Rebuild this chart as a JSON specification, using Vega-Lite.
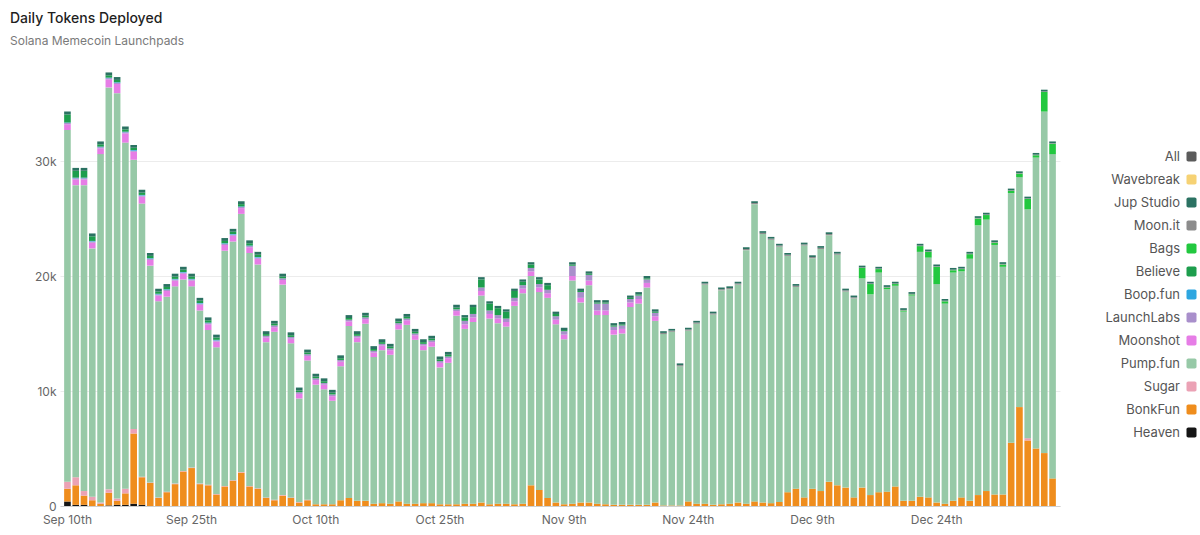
{
"$schema": "https://vega.github.io/schema/vega-lite/v6.json",
"width": 1000, "height": 437,
"autosize": {"type": "none"},
"padding": {"left": 60, "top": 69, "right": 140, "bottom": 29},
"background": "white",
"config": {"view": {"stroke": null}, "font": "Inter"},
"title": {"text": "Daily Tokens Deployed", "subtitle": "Solana Memecoin Launchpads", "anchor": "start", "frame": "group", "dx": -50, "offset": 22, "fontSize": 14, "fontWeight": 500, "color": "#1f1f1f", "subtitleFontSize": 12, "subtitleColor": "#7a7a7a", "subtitlePadding": 10, "font": "Inter", "subtitleFont": "Inter"},
"data": {"values": [
{"d":"2025-09-10","H":400,"K":1100,"S":600,"P":30600,"M":500,"L":100,"B":50,"V":700,"J":250},
{"d":"2025-09-11","H":100,"K":1700,"S":700,"P":25400,"M":500,"L":100,"B":50,"V":600,"J":250},
{"d":"2025-09-12","H":100,"K":800,"S":400,"P":26600,"M":500,"L":100,"B":50,"V":600,"J":250},
{"d":"2025-09-13","K":500,"S":300,"P":21600,"M":500,"L":100,"B":50,"V":400,"J":250},
{"d":"2025-09-14","K":200,"S":100,"P":30300,"M":500,"L":100,"B":50,"V":200,"J":250},
{"d":"2025-09-15","H":50,"K":1100,"S":300,"P":34950,"M":700,"L":100,"B":50,"V":200,"J":250},
{"d":"2025-09-16","H":100,"K":350,"S":200,"P":35250,"M":800,"L":100,"B":50,"V":200,"J":250},
{"d":"2025-09-17","H":100,"K":1000,"S":400,"P":30100,"M":800,"L":100,"B":50,"V":200,"J":250},
{"d":"2025-09-18","H":200,"K":6100,"S":400,"P":23400,"M":700,"L":100,"B":50,"V":200,"J":250},
{"d":"2025-09-19","H":100,"K":2400,"S":50,"P":23750,"M":600,"L":100,"B":50,"V":200,"J":250},
{"d":"2025-09-20","K":2000,"S":50,"P":18850,"M":500,"L":100,"B":50,"V":200,"J":250},
{"d":"2025-09-21","K":700,"S":50,"P":17050,"M":500,"L":100,"B":50,"V":200,"J":250},
{"d":"2025-09-22","K":1200,"S":50,"P":16950,"M":500,"L":100,"B":50,"V":200,"J":250},
{"d":"2025-09-23","K":1900,"S":50,"P":17150,"M":500,"L":100,"B":50,"V":200,"J":250},
{"d":"2025-09-24","K":3000,"S":50,"P":16650,"M":500,"L":100,"B":50,"V":200,"J":250},
{"d":"2025-09-25","K":3300,"S":50,"P":15750,"M":500,"L":100,"B":50,"V":200,"J":250},
{"d":"2025-09-26","K":1900,"S":50,"P":15050,"M":500,"L":100,"B":50,"V":200,"J":250},
{"d":"2025-09-27","K":1800,"S":50,"P":13450,"M":500,"L":100,"B":50,"V":200,"J":250},
{"d":"2025-09-28","K":1000,"S":50,"P":12750,"M":500,"L":100,"B":50,"V":200,"J":250},
{"d":"2025-09-29","K":1700,"S":50,"P":20450,"M":500,"L":100,"B":50,"V":200,"J":250},
{"d":"2025-09-30","K":2200,"S":50,"P":20750,"M":500,"L":100,"B":50,"V":200,"J":250},
{"d":"2025-10-01","K":2900,"S":50,"P":22450,"M":500,"L":100,"B":50,"V":200,"J":250},
{"d":"2025-10-02","K":1700,"S":50,"P":20250,"M":500,"L":100,"B":50,"V":200,"J":250},
{"d":"2025-10-03","K":1500,"S":50,"P":19450,"M":500,"L":100,"B":50,"V":200,"J":250},
{"d":"2025-10-04","K":700,"S":50,"P":13500,"M":400,"L":150,"V":150,"J":250},
{"d":"2025-10-05","K":500,"S":50,"P":14600,"M":400,"L":150,"V":150,"J":250},
{"d":"2025-10-06","K":900,"S":50,"P":18300,"M":400,"L":150,"V":150,"J":250},
{"d":"2025-10-07","K":700,"S":50,"P":13400,"M":400,"L":150,"V":150,"J":250},
{"d":"2025-10-08","K":300,"S":50,"P":9000,"M":400,"L":150,"V":150,"J":250},
{"d":"2025-10-09","K":500,"S":50,"P":12100,"M":400,"L":150,"V":150,"J":250},
{"d":"2025-10-10","K":150,"P":10400,"M":400,"L":150,"V":150,"J":250},
{"d":"2025-10-11","K":150,"P":10000,"M":400,"L":150,"V":150,"J":250},
{"d":"2025-10-12","K":150,"P":9000,"M":400,"L":150,"V":150,"J":250},
{"d":"2025-10-13","K":500,"P":11650,"M":400,"L":150,"V":150,"J":250},
{"d":"2025-10-14","K":700,"P":14950,"M":400,"L":150,"V":150,"J":250},
{"d":"2025-10-15","K":450,"P":13800,"M":400,"L":150,"V":150,"J":250},
{"d":"2025-10-16","K":450,"P":15400,"M":400,"L":150,"V":150,"J":250},
{"d":"2025-10-17","K":200,"P":12750,"M":400,"L":150,"V":150,"J":250},
{"d":"2025-10-18","K":250,"P":13300,"M":400,"L":150,"V":150,"J":250},
{"d":"2025-10-19","K":200,"P":12950,"M":400,"L":150,"V":150,"J":250},
{"d":"2025-10-20","K":400,"P":14950,"M":400,"L":150,"V":150,"J":250},
{"d":"2025-10-21","K":200,"P":15550,"M":400,"L":150,"V":150,"J":250},
{"d":"2025-10-22","K":200,"P":14250,"M":400,"L":150,"V":150,"J":250},
{"d":"2025-10-23","K":250,"P":13300,"M":400,"L":150,"V":150,"J":250},
{"d":"2025-10-24","K":250,"P":13600,"M":400,"L":150,"V":150,"J":250},
{"d":"2025-10-25","K":150,"P":11900,"M":400,"L":150,"V":150,"J":250},
{"d":"2025-10-26","K":150,"P":12300,"M":400,"L":150,"V":150,"J":250},
{"d":"2025-10-27","K":150,"P":16400,"M":400,"L":150,"V":150,"J":250},
{"d":"2025-10-28","K":200,"P":15200,"M":400,"L":300,"V":300,"J":200},
{"d":"2025-10-29","K":200,"P":15800,"M":400,"L":300,"V":600,"J":200},
{"d":"2025-10-30","K":300,"P":18000,"M":400,"L":300,"V":700,"J":200},
{"d":"2025-10-31","K":150,"P":16150,"M":400,"L":300,"V":600,"J":200},
{"d":"2025-11-01","K":200,"P":15700,"M":400,"L":300,"V":600,"J":200},
{"d":"2025-11-02","K":200,"P":15400,"M":400,"L":300,"V":600,"J":200},
{"d":"2025-11-03","K":150,"P":17250,"M":400,"L":300,"V":600,"J":200},
{"d":"2025-11-04","K":200,"P":18300,"M":400,"L":300,"V":300,"J":200},
{"d":"2025-11-05","K":1800,"P":18200,"M":400,"L":300,"V":300,"J":200},
{"d":"2025-11-06","K":1400,"P":17200,"M":400,"L":300,"V":400,"J":200},
{"d":"2025-11-07","K":700,"P":17400,"M":400,"L":300,"V":400,"J":200},
{"d":"2025-11-08","K":300,"P":15500,"M":400,"L":300,"V":200,"J":200},
{"d":"2025-11-09","K":150,"P":14350,"M":400,"L":300,"V":100,"J":200},
{"d":"2025-11-10","K":200,"P":19400,"M":400,"L":900,"V":100,"J":200},
{"d":"2025-11-11","K":300,"P":17400,"M":400,"L":500,"V":100,"J":200},
{"d":"2025-11-12","K":300,"P":18900,"M":400,"L":500,"V":100,"J":200},
{"d":"2025-11-13","K":200,"P":16400,"M":400,"L":600,"V":100,"J":200},
{"d":"2025-11-14","K":150,"P":16450,"M":400,"L":600,"V":100,"J":200},
{"d":"2025-11-15","K":100,"P":14800,"M":400,"L":300,"V":100,"J":200},
{"d":"2025-11-16","K":100,"P":14900,"M":400,"L":300,"V":100,"J":200},
{"d":"2025-11-17","K":100,"P":17200,"M":400,"L":300,"V":100,"J":200},
{"d":"2025-11-18","K":100,"P":17500,"M":400,"L":300,"V":100,"J":200},
{"d":"2025-11-19","K":100,"P":18900,"M":400,"L":300,"V":100,"J":200},
{"d":"2025-11-20","K":300,"P":15800,"M":400,"L":300,"V":100,"J":200},
{"d":"2025-11-21","K":50,"P":14900,"T":100,"J":150},
{"d":"2025-11-22","K":50,"P":15100,"T":100,"J":150},
{"d":"2025-11-23","K":50,"P":12100,"T":100,"J":150},
{"d":"2025-11-24","K":400,"P":14850,"T":100,"J":150},
{"d":"2025-11-25","K":200,"P":15650,"T":100,"J":150},
{"d":"2025-11-26","K":200,"P":19050,"T":100,"J":150},
{"d":"2025-11-27","K":100,"P":16550,"T":100,"J":150},
{"d":"2025-11-28","K":150,"P":18600,"T":100,"J":150},
{"d":"2025-11-29","K":200,"P":18650,"T":100,"J":150},
{"d":"2025-11-30","K":300,"P":18950,"T":100,"J":150},
{"d":"2025-12-01","K":200,"P":22050,"T":100,"J":150},
{"d":"2025-12-02","K":400,"P":25850,"T":100,"J":150},
{"d":"2025-12-03","K":300,"P":23350,"T":100,"J":150},
{"d":"2025-12-04","K":250,"P":22900,"T":100,"J":150},
{"d":"2025-12-05","K":350,"P":22200,"T":100,"J":150},
{"d":"2025-12-06","K":1200,"P":20550,"T":100,"J":150},
{"d":"2025-12-07","K":1500,"P":17550,"T":100,"J":150},
{"d":"2025-12-08","K":750,"P":21900,"T":100,"J":150},
{"d":"2025-12-09","K":1500,"P":20050,"T":100,"J":150},
{"d":"2025-12-10","K":1300,"P":21050,"T":100,"J":150},
{"d":"2025-12-11","K":2100,"P":21450,"T":100,"J":150},
{"d":"2025-12-12","K":1800,"P":20050,"T":100,"J":150},
{"d":"2025-12-13","K":1600,"P":17050,"T":100,"J":150},
{"d":"2025-12-14","K":750,"P":17300,"T":100,"J":150},
{"d":"2025-12-15","K":1600,"P":18200,"G":900,"T":50,"J":150},
{"d":"2025-12-16","K":950,"P":17450,"G":900,"T":50,"J":150},
{"d":"2025-12-17","K":1200,"P":19100,"G":300,"T":50,"J":150},
{"d":"2025-12-18","K":1250,"P":17600,"G":150,"T":50,"J":150},
{"d":"2025-12-19","K":1700,"P":17450,"G":150,"T":50,"J":150},
{"d":"2025-12-20","K":450,"P":16450,"G":100,"T":50,"J":150},
{"d":"2025-12-21","K":450,"P":17850,"G":100,"T":50,"J":150},
{"d":"2025-12-22","K":800,"P":21300,"G":500,"T":50,"J":150},
{"d":"2025-12-23","K":750,"P":20850,"G":500,"T":50,"J":150},
{"d":"2025-12-24","K":300,"P":19000,"G":1500,"T":50,"J":150},
{"d":"2025-12-25","K":200,"P":17400,"G":200,"T":50,"J":150},
{"d":"2025-12-26","K":450,"P":19850,"G":200,"T":50,"J":150},
{"d":"2025-12-27","K":750,"P":19650,"G":200,"T":50,"J":150},
{"d":"2025-12-28","K":450,"P":21050,"G":400,"T":50,"J":150},
{"d":"2025-12-29","K":950,"P":23450,"G":600,"T":50,"J":150},
{"d":"2025-12-30","K":1300,"P":23600,"G":400,"T":50,"J":150},
{"d":"2025-12-31","K":1000,"P":21700,"G":200,"T":50,"J":150},
{"d":"2026-01-01","K":1000,"P":19800,"G":200,"T":50,"J":150},
{"d":"2026-01-02","K":5500,"P":21700,"G":200,"T":50,"J":150},
{"d":"2026-01-03","K":8600,"P":20000,"G":300,"T":50,"J":150},
{"d":"2026-01-04","K":5700,"S":200,"P":19900,"G":900,"T":50,"J":150},
{"d":"2026-01-05","K":5000,"P":25300,"G":200,"T":50,"J":150},
{"d":"2026-01-06","K":4600,"P":29700,"G":1700,"T":50,"J":150},
{"d":"2026-01-07","K":2400,"P":28200,"G":900,"T":50,"J":150}
]},
"transform": [
{"fold": ["H","K","S","P","M","L","B","V","G","T","J"], "as": ["k","v"]},
{"filter": "isValid(datum.v) && datum.v > 0"},
{"calculate": "indexof(['H','K','S','P','M','L','B','V','G','T','J'], datum.k)", "as": "o"},
{"calculate": "['Heaven','BonkFun','Sugar','Pump.fun','Moonshot','LaunchLabs','Boop.fun','Believe','Bags','Moon.it','Jup Studio'][datum.o]", "as": "name"}
],
"mark": {"type": "bar"},
"encoding": {
"x": {"field": "d", "type": "ordinal", "scale": {"paddingInner": 0.2, "paddingOuter": 0.5},
 "axis": {"values": ["2025-09-10","2025-09-25","2025-10-10","2025-10-25","2025-11-09","2025-11-24","2025-12-09","2025-12-24"],
  "labelExpr": "timeFormat(toDate(datum.value + 'T00:00:00'), '%b %-d') + 'th'",
  "ticks": false, "domainColor": "#cfcfcf", "labelAngle": 0, "labelPadding": 8, "title": null, "labelColor": "#666666", "labelFontSize": 12, "labelFont": "Inter"}},
"y": {"field": "v", "type": "quantitative", "stack": "zero", "scale": {"domain": [0, 38000], "nice": false},
 "axis": {"values": [0, 10000, 20000, 30000], "labelExpr": "datum.value == 0 ? '0' : (datum.value / 1000) + 'k'", "domain": false, "ticks": false, "gridColor": "#ececec", "labelColor": "#666666", "labelFontSize": 12, "labelPadding": 4, "title": null, "labelFont": "Inter"}},
"color": {"field": "name", "type": "nominal",
 "scale": {"domain": ["All","Wavebreak","Jup Studio","Moon.it","Bags","Believe","Boop.fun","LaunchLabs","Moonshot","Pump.fun","Sugar","BonkFun","Heaven"],
  "range": ["#5b5b5b","#f6d274","#2b7262","#8c8c8c","#22c83f","#1d9e4d","#2ea6e0","#a98fcb","#e67de6","#97c9a7","#eba2b5","#ef8d1d","#151515"]},
 "legend": {"orient": "none", "legendX": 1125, "legendY": 81, "title": null, "labelAlign": "right", "labelOffset": -18, "labelFontSize": 13, "labelColor": "#555555", "labelFont": "Inter", "symbolType": "M -0.65 -1 H 0.65 A 0.35 0.35 0 0 1 1 -0.65 V 0.65 A 0.35 0.35 0 0 1 0.65 1 H -0.65 A 0.35 0.35 0 0 1 -1 0.65 V -0.65 A 0.35 0.35 0 0 1 -0.65 -1 Z", "symbolSize": 100, "symbolStrokeWidth": 0, "rowPadding": 9}},
"order": {"field": "o", "type": "quantitative"}
}
}
